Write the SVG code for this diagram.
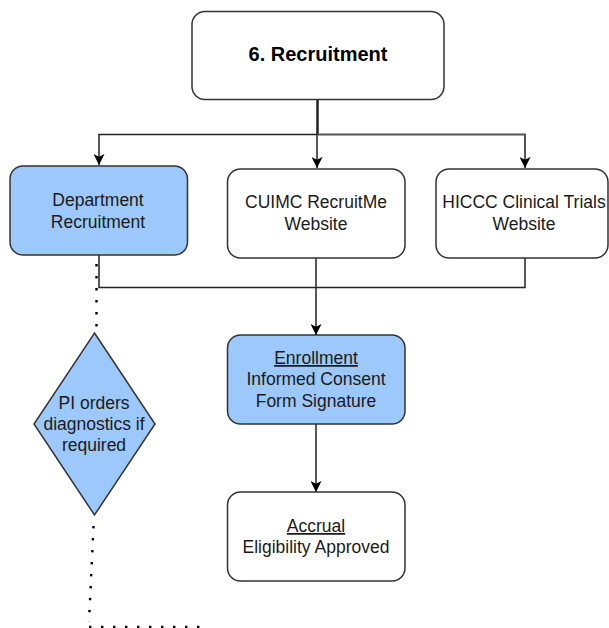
<svg xmlns="http://www.w3.org/2000/svg" width="609" height="628" viewBox="0 0 609 628">
<defs>
<marker id="ah" viewBox="0 0 10 10" refX="10" refY="5" markerWidth="11" markerHeight="11" markerUnits="userSpaceOnUse" orient="auto">
<path d="M0,0 L10,5 L0,10 L2.5,5 z" fill="#000"/>
</marker>
<style>
.box{fill:#fff;stroke:#333;stroke-width:1.5}
.blue{fill:#9cc8fb;stroke:#333;stroke-width:1.5}
.t{font-family:"Liberation Sans",Arial,sans-serif;font-size:17.5px;fill:#1a1a1a;text-anchor:middle}
.title{font-family:"Liberation Sans",Arial,sans-serif;font-size:20px;font-weight:bold;fill:#000;text-anchor:middle}
.ln{fill:none;stroke:#222;stroke-width:1.5}
.dot{fill:none;stroke:#000;stroke-width:2.4;stroke-dasharray:2.4 9.6}
</style>
</defs>
<rect width="609" height="628" fill="#fff"/>
<g id="connectors">
<path class="ln" d="M317.5,99 V134.5" style="stroke-width:2.5"/>
<path class="ln" d="M317.5,134.5 H99 V165" marker-end="url(#ah)"/>
<path class="ln" d="M317,134.5 V168" marker-end="url(#ah)"/>
<path class="ln" d="M318,134.5 H525 V168" style="stroke:#555;stroke-width:2" marker-end="url(#ah)"/>
<path class="ln" d="M99,255 V287.5 H525 V258"/>
<path class="ln" d="M316,258 V335" marker-end="url(#ah)"/>
<path class="ln" d="M316,424 V492" marker-end="url(#ah)"/>
<path class="dot" d="M96.5,264 V333"/>
<path class="dot" d="M93.5,526 L89,622"/>
<path class="dot" d="M89,627 H202"/>
</g>
<g id="n_recruitment">
<rect class="box" x="192" y="11.5" width="252" height="88" rx="13"/>
<text class="title" x="318" y="61">6. Recruitment</text>
</g>
<g id="n_department">
<rect class="blue" x="10" y="166" width="177.5" height="89" rx="13"/>
<text class="t" x="98" y="206">Department</text>
<text class="t" x="98" y="228">Recruitment</text>
</g>
<g id="n_cuimc">
<rect class="box" x="227.5" y="169" width="177.5" height="89" rx="13"/>
<text class="t" x="316" y="208">CUIMC RecruitMe</text>
<text class="t" x="316" y="230">Website</text>
</g>
<g id="n_hiccc">
<rect class="box" x="436" y="169" width="172" height="89" rx="13"/>
<text class="t" x="524" y="208">HICCC Clinical Trials</text>
<text class="t" x="524" y="230">Website</text>
</g>
<g id="n_enrollment">
<rect class="blue" x="227.5" y="335" width="177.5" height="89" rx="13"/>
<text class="t" x="316" y="364" text-decoration="underline">Enrollment</text>
<text class="t" x="316" y="385">Informed Consent</text>
<text class="t" x="316" y="407">Form Signature</text>
</g>
<g id="n_accrual">
<rect class="box" x="227.5" y="492" width="177.5" height="89" rx="13"/>
<text class="t" x="316" y="532" text-decoration="underline">Accrual</text>
<text class="t" x="316" y="553">Eligibility Approved</text>
</g>
<g id="n_pi">
<polygon class="blue" points="94.5,333 155,424 94.5,515 34,424"/>
<text class="t" x="94" y="409">PI orders</text>
<text class="t" x="94" y="430">diagnostics if</text>
<text class="t" x="94" y="451">required</text>
</g>
</svg>
